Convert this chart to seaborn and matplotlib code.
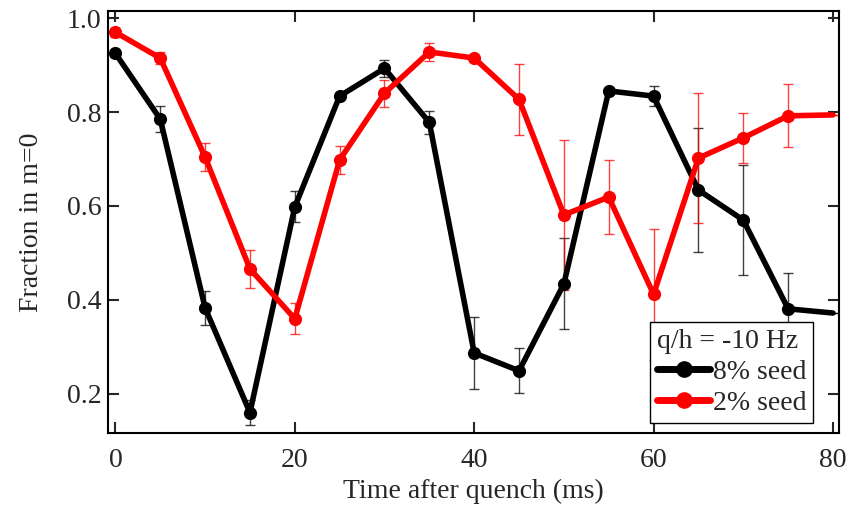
import matplotlib
matplotlib.use("Agg")
import matplotlib.pyplot as plt
from matplotlib.lines import Line2D
import seaborn as sns
import pandas as pd

# time after quench (ms)
time_ms = [0, 5, 10, 15, 20, 25, 30, 35, 40, 45, 50, 55, 60, 65, 70, 75, 80]

# 8% seed
frac_8 = [0.925, 0.785, 0.383, 0.160, 0.598, 0.834, 0.893, 0.778, 0.287, 0.249,
          0.434, 0.845, 0.834, 0.634, 0.570, 0.381, 0.372]
err_8 = [0.008, 0.027, 0.036, 0.026, 0.033, 0.005, 0.018, 0.024, 0.077, 0.048,
         0.097, 0.0, 0.022, 0.132, 0.117, 0.076, 0.0]

# 2% seed
frac_2 = [0.970, 0.915, 0.704, 0.466, 0.360, 0.698, 0.840, 0.928, 0.915, 0.827,
          0.581, 0.619, 0.412, 0.702, 0.745, 0.792, 0.794]
err_2 = [0.010, 0.012, 0.030, 0.041, 0.033, 0.029, 0.029, 0.020, 0.0, 0.075,
         0.160, 0.079, 0.139, 0.138, 0.054, 0.067, 0.0]

labels = ["8% seed", "2% seed"]
colors = ["black", "red"]

df = pd.concat([
    pd.DataFrame({"t": time_ms, "f": frac_8, "e": err_8, "seed": labels[0]}),
    pd.DataFrame({"t": time_ms, "f": frac_2, "e": err_2, "seed": labels[1]}),
])

sns.set_style("ticks")
plt.rcParams["font.family"] = ["Liberation Serif", "DejaVu Serif"]
plt.rcParams["font.size"] = 20

fig, ax = plt.subplots(figsize=(8.59, 5.05), dpi=100)

for lab, col in zip(labels, colors):
    d = df[df["seed"] == lab]
    ax.errorbar(d["t"], d["f"], yerr=d["e"], fmt="none", ecolor=col,
                elinewidth=1.0, capsize=3.6, capthick=1.0, alpha=0.75, zorder=2)

# last point has no marker in the original
sns.lineplot(data=df, x="t", y="f", hue="seed", palette=colors,
             marker="o", markersize=9.5, markeredgewidth=0, linewidth=4,
             markevery=list(range(len(time_ms) - 1)), legend=False,
             ax=ax, zorder=3)

ax.set_xlim(-0.8, 80.7)
ax.set_ylim(0.117, 1.015)
ax.set_xticks([0, 20, 40, 60, 80])
ax.set_yticks([0.2, 0.4, 0.6, 0.8, 1.0])
ax.set_yticklabels(["0.2", "0.4", "0.6", "0.8", "1.0"])
ax.tick_params(direction="in", length=8, width=1.5, top=True, right=True,
               labelsize=20)
ax.tick_params(axis="x", pad=11)
ax.tick_params(axis="y", pad=5)
for s in ax.spines.values():
    s.set_linewidth(1.5)
    s.set_color("black")

ax.set_xlabel("Time after quench (ms)", fontsize=20, labelpad=4)
ax.set_ylabel("Fraction in m=0", fontsize=20, labelpad=16)

handles = [Line2D([], [], color=c, lw=5, marker="o", markersize=12,
                  markeredgewidth=0) for c in colors]
leg = ax.legend(handles, labels, title="q/h = -10 Hz", loc="lower right",
                bbox_to_anchor=(0.9645, 0.024), borderaxespad=0,
                fontsize=20, title_fontsize=20, frameon=True, fancybox=False,
                framealpha=1, edgecolor="black", handlelength=1.9,
                handletextpad=0.1, borderpad=0.25, labelspacing=0.2)
leg._legend_box.align = "left"
leg.get_frame().set_linewidth(1.0)

fig.subplots_adjust(left=0.126, right=0.977, top=0.978, bottom=0.143)
fig.savefig("out.png", dpi=100)
